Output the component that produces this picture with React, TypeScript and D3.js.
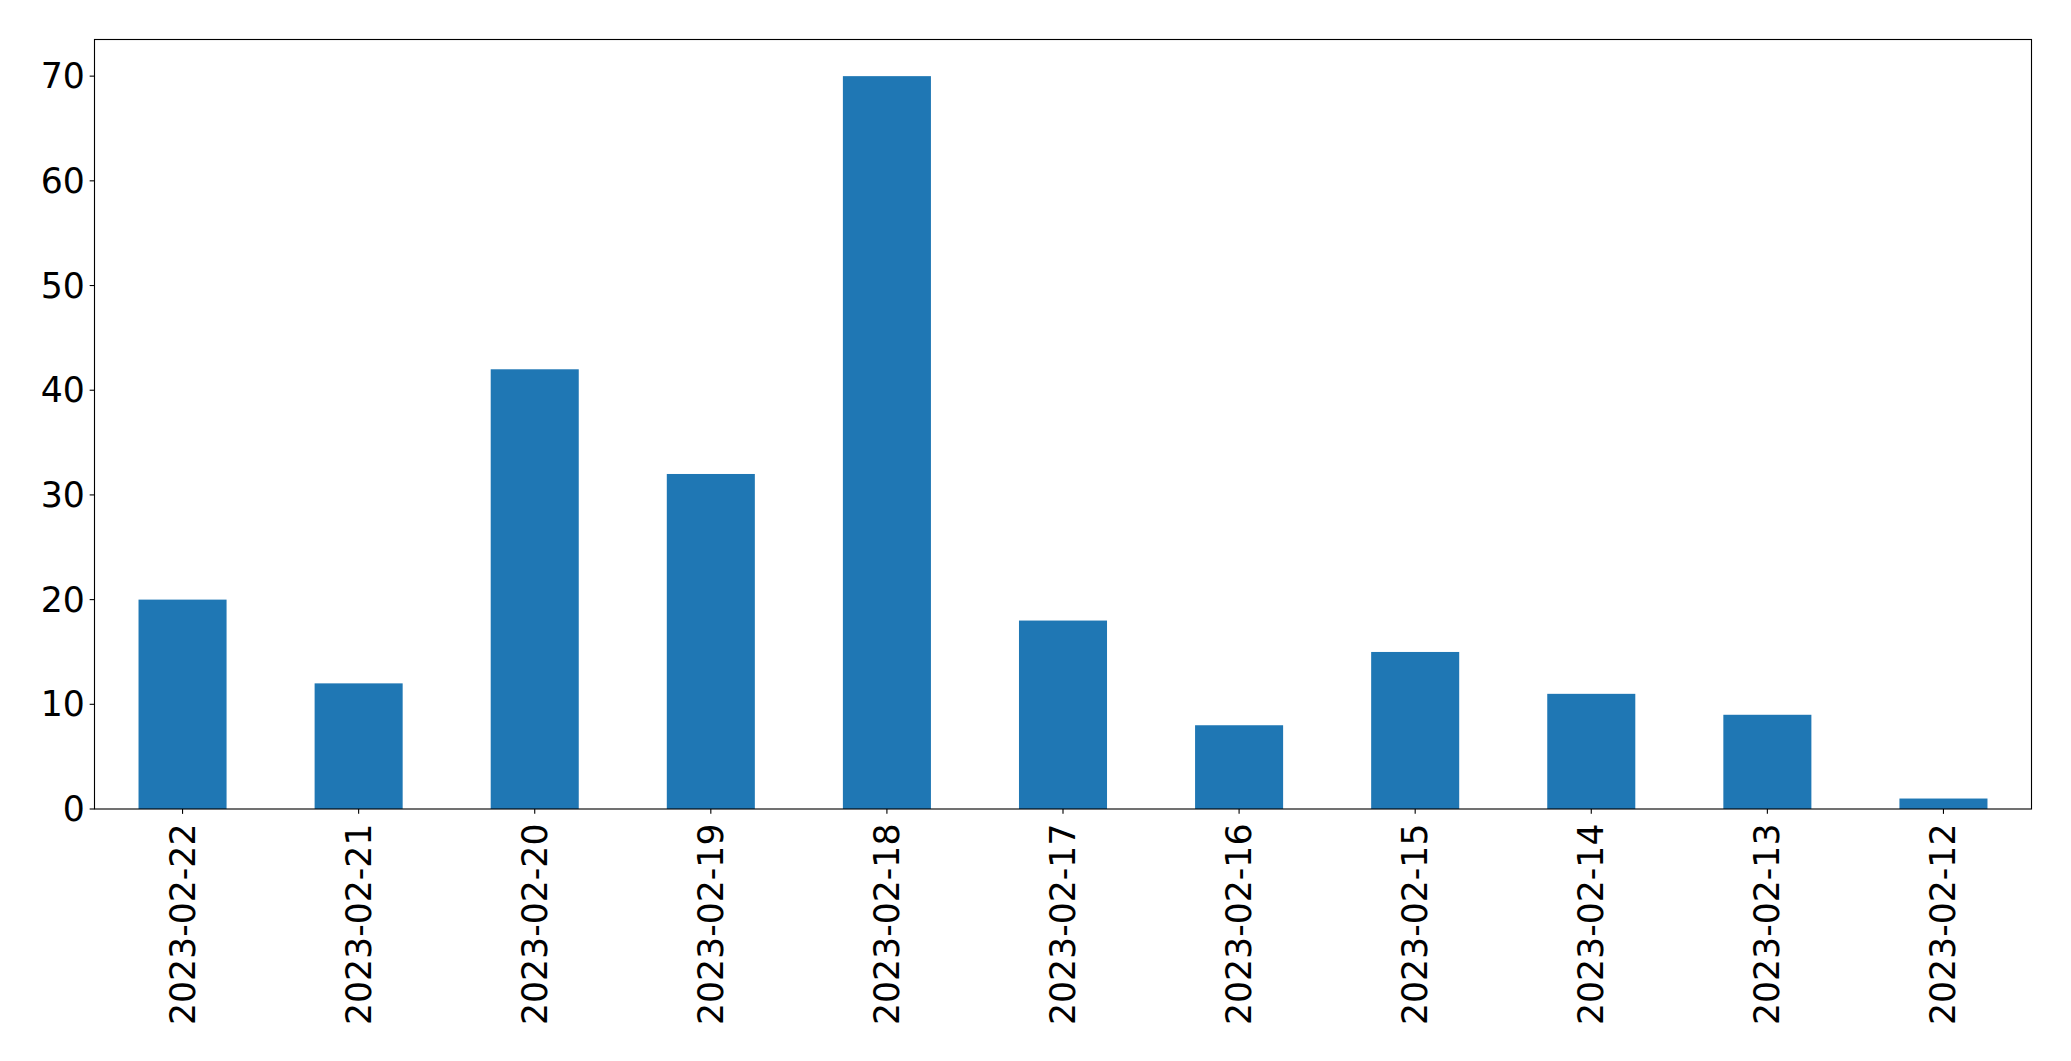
import React from "react";
import * as d3 from "d3";

const categories = ["2023-02-22","2023-02-21","2023-02-20","2023-02-19","2023-02-18","2023-02-17","2023-02-16","2023-02-15","2023-02-14","2023-02-13","2023-02-12"];
const values = [20, 12, 42, 32, 70, 18, 8, 15, 11, 9, 1];
const yTicks = [0, 10, 20, 30, 40, 50, 60, 70];

const W = 2071, H = 1061;
const left = 94.5, right = 2031.5, top = 39.5, bottom = 809;
const FONT = "DejaVu Sans, sans-serif";
const FS = 34.7;
const tickLen = 4.86, pad = 4.86;

export default function App() {
  const x = d3.scaleLinear().domain([-0.5, categories.length - 0.5]).range([left, right]);
  const yMax = d3.max(values)! * 1.05;
  const y = d3.scaleLinear().domain([0, yMax]).range([bottom, top]);
  const bw = x(0.5) - x(0);
  return (
    <svg width={W} height={H} style={{ position: "absolute", left: 0, top: 0, background: "#fff" }}>
      {values.map((v, i) => (
        <rect key={i} x={x(i) - bw / 2} y={y(v)} width={bw} height={y(0) - y(v)} fill="#1f77b4" />
      ))}
      <rect x={left} y={top} width={right - left} height={bottom - top} fill="none" stroke="#000" strokeWidth={1.11} />
      {yTicks.map((t) => (
        <g key={t}>
          <line x1={left - tickLen} x2={left} y1={y(t)} y2={y(t)} stroke="#000" strokeWidth={1.11} />
          <text x={left - tickLen - pad} y={y(t)} textAnchor="end" dominantBaseline="central" fontFamily={FONT} fontSize={FS} fill="#000">{t}</text>
        </g>
      ))}
      {categories.map((c, i) => (
        <g key={c}>
          <line x1={x(i)} x2={x(i)} y1={bottom} y2={bottom + tickLen} stroke="#000" strokeWidth={1.11} />
          <text transform={`translate(${x(i)},${bottom + 14.5}) rotate(-90)`} textAnchor="end" dominantBaseline="central" fontFamily={FONT} fontSize={FS} fill="#000">{c}</text>
        </g>
      ))}
    </svg>
  );
}
